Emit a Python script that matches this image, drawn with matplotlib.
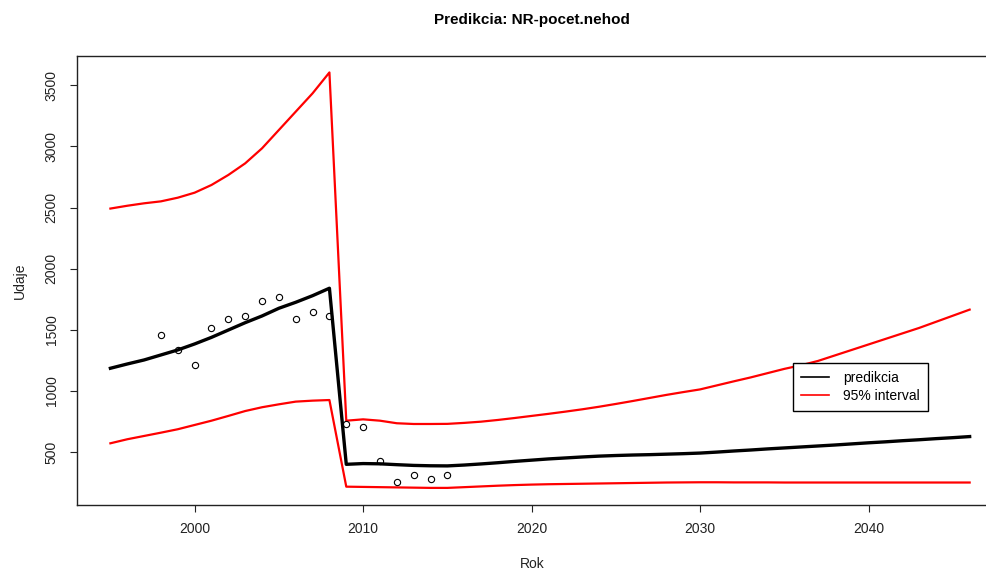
import matplotlib.pyplot as plt
import numpy as np

plt.rcParams['font.family'] = ['Liberation Sans', 'DejaVu Sans']

# Roky predikcie
roky = np.arange(1995, 2047)

# Predikcia (cierna ciara)
predikcia = [1185, 1220, 1253, 1294, 1335, 1384, 1438, 1498, 1558, 1613,
             1676, 1725, 1779, 1840, 399, 405, 403, 396, 390, 387,
             386, 393, 402, 412, 423, 433, 443, 451, 459, 466,
             471, 475, 478, 482, 486, 491, 499, 508, 516, 525,
             533, 541, 549, 557, 566, 575, 583, 592, 600, 609,
             617, 626]

# Horna hranica 95% intervalu
horna = [2492, 2515, 2535, 2551, 2581, 2622, 2685, 2767, 2862, 2985,
         3135, 3285, 3435, 3606, 756, 767, 756, 735, 729, 729,
         730, 738, 748, 762, 778, 795, 812, 830, 849, 870,
         893, 917, 942, 967, 990, 1012, 1045, 1078, 1110, 1145,
         1180, 1210, 1245, 1290, 1335, 1380, 1425, 1470, 1515, 1565,
         1615, 1665]

# Dolna hranica 95% intervalu
dolna = [571, 604, 631, 658, 686, 721, 756, 795, 835, 866,
         890, 912, 920, 925, 216, 214, 212, 210, 208, 206,
         206, 212, 218, 224, 229, 233, 236, 238, 240, 242,
         244, 246, 248, 250, 251, 252, 252, 251, 251, 251,
         250, 250, 250, 250, 250, 250, 250, 250, 250, 250,
         250, 250]

# Pozorovane udaje
roky_obs = np.arange(1998, 2016)
udaje_obs = [1457, 1335, 1209, 1515, 1591, 1613, 1736, 1766, 1591, 1648,
             1613, 729, 702, 424, 254, 309, 279, 309]

fig = plt.figure(figsize=(9.87, 5.70), dpi=100)
ax = fig.add_axes([76.7 / 987, 65 / 570, (987 - 76.7) / 987, 449.3 / 570])

ax.plot(roky, predikcia, color='black', lw=2.4, label='predikcia')
ax.plot(roky, horna, color='red', lw=1.6, label='95% interval')
ax.plot(roky, dolna, color='red', lw=1.6)
ax.plot(roky_obs, udaje_obs, 'o', mfc='none', mec='black', ms=4.5, mew=0.8)

ax.set_xlim(1993.0, 2047.03)
ax.set_ylim(66, 3743)
ax.set_xticks([2000, 2010, 2020, 2030, 2040])
ax.set_yticks([500, 1000, 1500, 2000, 2500, 3000, 3500])
ax.tick_params(axis='x', length=5, width=0.8, pad=7, labelsize=10, colors='#222222')
ax.tick_params(axis='y', length=5, width=0.8, pad=8, labelsize=10, colors='#222222')
for lab in ax.get_yticklabels():
    lab.set_rotation(90)
    lab.set_va('center')

for s in ['left', 'bottom', 'top']:
    ax.spines[s].set_color('#222222')
    ax.spines[s].set_linewidth(1.0)
ax.spines['right'].set_visible(False)

# Popisy osi a nadpis
fig.text(532 / 987, 1 - 564 / 570, 'Rok', ha='center', va='center', fontsize=10, color='#222222')
ax.set_ylabel('Udaje', fontsize=10, color='#222222', labelpad=13)
fig.text(532 / 987, 1 - 20 / 570, 'Predikcia: NR-pocet.nehod', ha='center', va='center',
         fontsize=11, fontweight='bold')

leg = ax.legend(loc='upper left', bbox_to_anchor=(793 / 987, 1 - 363 / 570),
                bbox_transform=fig.transFigure, borderaxespad=0, fancybox=False,
                edgecolor='black', framealpha=1, fontsize=10, handlelength=2.0,
                handletextpad=1.0, labelspacing=0.25, borderpad=0.6)
leg.get_frame().set_linewidth(1.0)
for h in leg.get_lines():
    h.set_linewidth(1.2)

plt.savefig('out.png', dpi=100)
